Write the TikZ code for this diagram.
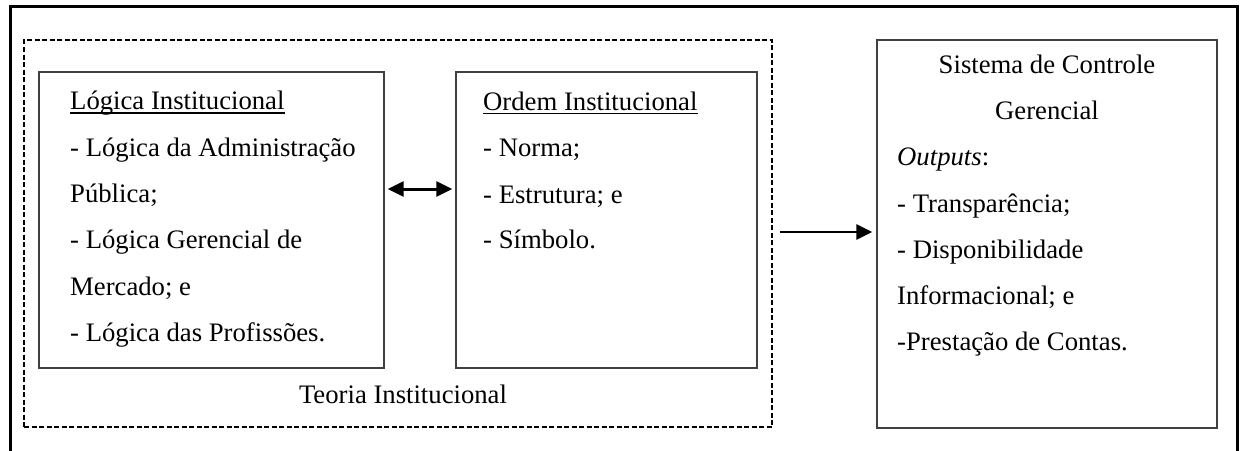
\documentclass[tikz,border=0pt]{standalone}
\usepackage{fontspec}
\setmainfont{Liberation Serif}
\usetikzlibrary{arrows.meta,calc}
\tikzset{
  box/.style={draw=black!75, line width=1.4pt, inner sep=0pt},
  dbox/.style={draw=black, line width=1.5pt, dash pattern=on 5pt off 2.5pt, inner sep=0pt},
  txt/.style={anchor=base west, inner sep=0pt, font=\fontsize{26.7}{32}\selectfont},
  ctxt/.style={anchor=base, inner sep=0pt, font=\fontsize{26.7}{32}\selectfont},
  ul/.style={line width=1.5pt},
  conn/.style={line width=2.6pt, -{Triangle[length=16pt,width=15pt]}},
  dconn/.style={line width=3pt, {Triangle[length=16pt,width=15pt]}-{Triangle[length=16pt,width=15pt]}},
}
\begin{document}
\begin{tikzpicture}[x=1pt,y=-1pt]
\useasboundingbox (0,0) rectangle (1242,450);
% outer frame (bottom cut off)
\draw[line width=3pt] (10,452) -- (10,6) -- (1237,6) -- (1237,452);
% boxes
\node[dbox, minimum width=748pt, minimum height=387pt] (db) at (398,233.5) {};
\node[box, minimum width=345pt, minimum height=296pt] (lb) at (211.5,220) {};
\node[box, minimum width=301pt, minimum height=296pt] (mb) at (606.5,220) {};
\node[box, minimum width=340pt, minimum height=388pt] (rb) at (1047,234) {};
% left text
\node[txt] (l1) at (70,109.5) {Lógica Institucional};
\draw[ul] ($(l1.base west)+(0,3.5)$) -- ($(l1.base east)+(0,3.5)$);
\node[txt] (l2) at (70,156) {- Lógica da Administração};
\node[txt] (l3) at (70,202) {Pública;};
\node[txt] (l4) at (70,248.5) {- Lógica Gerencial de};
\node[txt] (l5) at (70,295) {Mercado; e};
\node[txt] (l6) at (70,341.5) {- Lógica das Profissões.};
% middle text
\node[txt] (m1) at (483,110) {Ordem Institucional};
\draw[ul] ($(m1.base west)+(0,3.5)$) -- ($(m1.base east)+(0,3.5)$);
\node[txt] (m2) at (483,156.5) {- Norma;};
\node[txt] (m3) at (483,203) {- Estrutura; e};
\node[txt] (m4) at (483,248.5) {- Símbolo.};
% right text
\node[ctxt] (r1) at (1047,73) {Sistema de Controle};
\node[ctxt] (r2) at (1047,119.3) {Gerencial};
\node[txt] (r3) at (897,165.6) {\textit{Outputs}:};
\node[txt] (r4) at (897,212) {- Transparência;};
\node[txt] (r5) at (897,258.2) {- Disponibilidade};
\node[txt] (r6) at (897,304.5) {Informacional; e};
\node[txt] (r7) at (897,350.8) {-Prestação de Contas.};
% label
\node[ctxt] (ti) at (403,403) {Teoria Institucional};
% connectors
\draw[dconn, shorten <=3pt, shorten >=3pt] ([yshift=31pt]lb.east) -- ([yshift=31pt]mb.west);
\draw[conn, shorten <=7pt, shorten >=4pt] ([yshift=1.5pt]db.east) -- ([yshift=2pt]rb.west);
\end{tikzpicture}
\end{document}
